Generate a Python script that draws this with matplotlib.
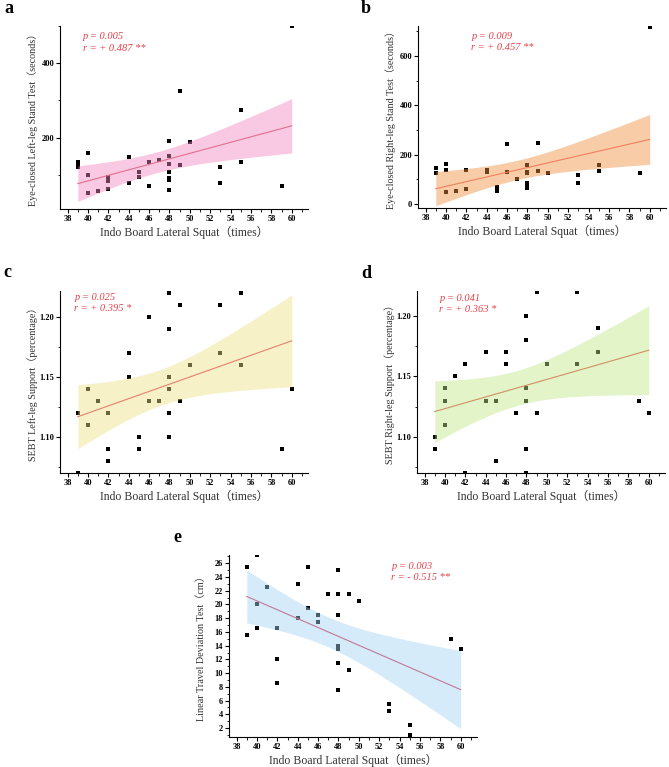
import matplotlib.pyplot as plt
import numpy as np
from matplotlib.ticker import MultipleLocator, FormatStrFormatter

# data
xa = [39, 39, 39, 40, 40, 40, 41, 42, 42, 42, 44, 44, 45, 45, 46, 46, 47,
      48, 48, 48, 48, 48, 48, 48, 49, 49, 50, 53, 53, 55, 55, 59, 60]
ya = [134, 128, 122, 159, 100, 50, 56, 94, 82, 63, 147, 79, 108, 94, 134, 70, 139,
      190, 150, 129, 108, 92, 86, 59, 326, 125, 187, 120, 79, 274, 135, 70, 499]

xb = [39, 39, 40, 40, 40, 41, 42, 42, 44, 44, 45, 45, 45, 46, 46, 47,
      48, 48, 48, 48, 48, 48, 49, 49, 50, 53, 53, 55, 55, 59, 60]
yb = [147, 124, 161, 137, 47, 54, 137, 63, 137, 129, 71, 63, 54, 245, 129, 100,
      159, 129, 124, 85, 77, 65, 249, 133, 126, 118, 87, 159, 133, 124, 717]

xc = [39, 39, 40, 40, 41, 42, 42, 42, 44, 44, 45, 45, 46, 46, 47,
      48, 48, 48, 48, 48, 48, 49, 49, 50, 53, 53, 55, 55, 59, 60]
yc = [1.12, 1.07, 1.14, 1.11, 1.13, 1.12, 1.09, 1.08, 1.17, 1.15, 1.10, 1.09, 1.20, 1.13, 1.13,
      1.22, 1.19, 1.15, 1.14, 1.12, 1.10, 1.21, 1.13, 1.16, 1.21, 1.17, 1.22, 1.16, 1.09, 1.14]

xd = [39, 39, 40, 40, 40, 41, 42, 42, 44, 44, 45, 45, 46, 46, 47,
      48, 48, 48, 48, 48, 48, 49, 49, 50, 53, 53, 55, 55, 59, 60]
yd = [1.10, 1.09, 1.14, 1.13, 1.11, 1.15, 1.16, 1.07, 1.17, 1.13, 1.13, 1.08, 1.17, 1.16, 1.12,
      1.20, 1.18, 1.14, 1.13, 1.09, 1.07, 1.22, 1.12, 1.16, 1.22, 1.16, 1.19, 1.17, 1.13, 1.12]

xe = [39, 39, 40, 40, 40, 41, 42, 42, 42, 44, 44, 45, 45, 46, 46, 47,
      48, 48, 48, 48, 48, 48, 48, 49, 49, 50, 53, 53, 55, 55, 59, 60]
ye = [25.5, 15.5, 27.2, 20.0, 16.5, 22.5, 16.5, 12.0, 8.5, 23.0, 18.0, 25.5, 19.5, 18.5, 17.5, 21.5,
      25.0, 21.5, 18.5, 14.0, 13.5, 11.5, 7.5, 21.5, 10.5, 20.5, 5.5, 4.5, 2.5, 1.0, 15.0, 13.5]

xlabel = 'Indo Board Lateral Squat（times）'
ylabels = ['Eye-closed Left-leg Stand Test（seconds）',
           'Eye-closed Right-leg Stand Test（seconds）',
           'SEBT Left-leg Support（percentage）',
           'SEBT Right-leg Support（percentage）',
           'Linear Travel Deviation Test（cm）']
stats = ['p = 0.005\nr = + 0.487 **', 'p = 0.009\nr = + 0.457 **',
         'p = 0.025\nr = + 0.395 *', 'p = 0.041\nr = + 0.363 *',
         'p = 0.003\nr = - 0.515 **']
letters = ['a', 'b', 'c', 'd', 'e']

T95 = 2.04
serif = ['Liberation Serif', 'Noto Sans CJK SC']

W, H = 669, 767
fig = plt.figure(figsize=(W / 100, H / 100), dpi=100)

# axes boxes in pixels: left, top, width, height
boxes = [(60, 26, 248, 183), (418, 26, 248, 182), (60, 291, 248, 182),
         (417, 291, 248, 182), (229, 555, 248, 182)]
band_cols = ['#f287bf', '#ef8f3d', '#efe284', '#bfe885', '#a4d4f4']
line_cols = ['#e07090', '#f08060', '#e8806e', '#d09060', '#c07898']
ylims = [(8, 500), (-16, 722), (1.0702, 1.2215), (1.0702, 1.2205), (0.7, 27.2)]
ymaj = [200, 200, 0.05, 0.05, 2]
ymin = [100, 100, 0.025, 0.025, 1]
yfmt = ['%d', '%d', '%.2f', '%.2f', '%d']
txt_pos = [(0.093, 0.965), (0.215, 0.965), (0.057, 0.99), (0.09, 0.985), (0.655, 0.96)]
letter_pos = [(4, 13), (361, 13), (3, 277), (361, 278), (173, 542)]

data = [(xa, ya), (xb, yb), (xc, yc), (xd, yd), (xe, ye)]

for i, (xs, ys) in enumerate(data):
    l, t, w, h = boxes[i]
    ax = fig.add_axes([l / W, 1 - (t + h) / H, w / W, h / H])
    x = np.array(xs, float)
    y = np.array(ys, float)
    ax.scatter(x, y, marker='s', s=11, color='black', linewidths=0, zorder=2)

    # linear fit with 95% confidence band
    b1, b0 = np.polyfit(x, y, 1)
    n = len(x)
    res = y - (b0 + b1 * x)
    s = np.sqrt(np.sum(res ** 2) / (n - 2))
    xg = np.linspace(x.min(), x.max(), 100)
    yg = b0 + b1 * xg
    se = s * np.sqrt(1 / n + (xg - x.mean()) ** 2 / np.sum((x - x.mean()) ** 2))
    ax.fill_between(xg, yg - T95 * se, yg + T95 * se, color=band_cols[i],
                    alpha=0.45, linewidth=0, zorder=3)
    ax.plot(xg, yg, color=line_cols[i], lw=0.8, zorder=4)

    ax.set_xlim(37.25, 61.6)
    ax.set_ylim(*ylims[i])
    ax.xaxis.set_major_locator(MultipleLocator(2))
    ax.xaxis.set_minor_locator(MultipleLocator(1))
    ax.yaxis.set_major_locator(MultipleLocator(ymaj[i]))
    ax.yaxis.set_minor_locator(MultipleLocator(ymin[i]))
    ax.yaxis.set_major_formatter(FormatStrFormatter(yfmt[i]))
    for sp in ['top', 'right']:
        ax.spines[sp].set_visible(False)
    for sp in ['left', 'bottom']:
        ax.spines[sp].set_linewidth(0.8)
    ax.tick_params(which='major', length=3, width=0.8, pad=1.2)
    ax.tick_params(which='minor', length=1.8, width=0.6)
    for lab in ax.get_xticklabels() + ax.get_yticklabels():
        lab.set_family(serif)
        lab.set_fontweight('bold')
        lab.set_fontsize(6)
    ax.set_xlabel(xlabel, family=serif, fontsize=8.5, color='#333333', va='center')
    ax.xaxis.set_label_coords(0.5, -23 / h)
    ax.set_ylabel(ylabels[i], family=serif, fontsize=7.3, color='#333333', va='center')
    ax.yaxis.set_label_coords(-27.5 / w, 0.5)
    ax.text(txt_pos[i][0], txt_pos[i][1], stats[i], transform=ax.transAxes,
            ha='left', va='top', color='#e8404a', style='italic',
            family=serif, fontsize=7.5, linespacing=1.3)

    lx, ly = letter_pos[i]
    fig.text(lx / W, 1 - ly / H, letters[i], family=serif, fontweight='bold',
             fontsize=13, va='baseline', ha='left')

fig.savefig('out.png', dpi=100)
